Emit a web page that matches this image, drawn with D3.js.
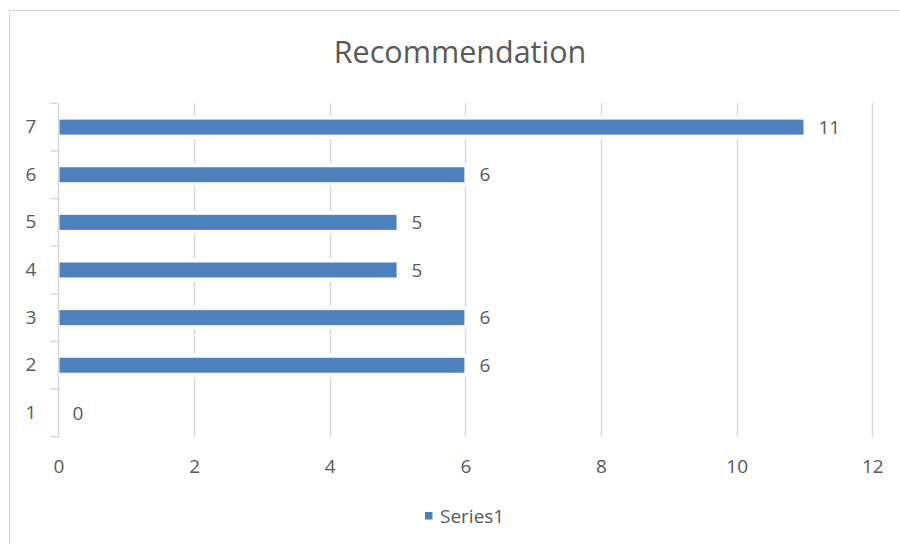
<!DOCTYPE html>
<html>
<head>
<meta charset="utf-8">
<script src="https://cdn.jsdelivr.net/npm/d3@7"></script>
<style>
  html, body { margin: 0; padding: 0; background: #fff; }
  svg { display: block; font-family: "Open Sans", "Noto Sans", sans-serif; }
</style>
</head>
<body>
<svg id="chart" width="900" height="544"></svg>
<script>
// Recommendation counts per rating
const categories = ["1", "2", "3", "4", "5", "6", "7"];
const values = [0, 6, 6, 5, 5, 6, 11];
const xTicks = [0, 2, 4, 6, 8, 10, 12];
const seriesName = "Series1";
const title = "Recommendation";

const W = 900, H = 544;
const plot = { left: 58.5, right: 872.3, top: 103.3, bottom: 436.7 };
const barColor = "#4f81bd";
const gridColor = "#d9d9d9";
const textColor = "#595959";
const labelSize = 19;

const svg = d3.select("#chart");

// outer chart frame
svg.append("rect")
  .attr("x", 9.5).attr("y", 10.5)
  .attr("width", W).attr("height", H)
  .attr("fill", "#fff").attr("stroke", gridColor).attr("stroke-width", 1);

const x = d3.scaleLinear().domain([0, 12]).range([plot.left, plot.right]);
const y = d3.scaleBand().domain(categories.slice().reverse())
  .range([plot.top, plot.bottom]).paddingInner(0.685).paddingOuter(0.3425);

// vertical gridlines
svg.append("g").selectAll("line").data(xTicks.filter(d => d > 0)).join("line")
  .attr("x1", d => Math.round(x(d)) + 0.5).attr("x2", d => Math.round(x(d)) + 0.5)
  .attr("y1", plot.top).attr("y2", plot.bottom)
  .attr("stroke", gridColor).attr("stroke-width", 1.5);

// x axis labels
const xAxis = d3.axisBottom(x).tickValues(xTicks).tickSize(0).tickPadding(0);
const gx = svg.append("g").attr("transform", `translate(0,${plot.bottom})`).call(xAxis);
gx.select(".domain").remove();
gx.selectAll("text")
  .attr("y", 30).attr("dy", "0.35em")
  .attr("fill", textColor).attr("font-size", labelSize).attr("font-family", "Open Sans, sans-serif");

// category axis (left) with ticks at band boundaries
const boundaries = d3.range(categories.length + 1).map(i => plot.top + i * (plot.bottom - plot.top) / categories.length);
const gy = svg.append("g");
gy.append("line")
  .attr("x1", plot.left).attr("x2", plot.left)
  .attr("y1", plot.top).attr("y2", plot.bottom)
  .attr("stroke", gridColor).attr("stroke-width", 1.5);
gy.selectAll("line.tick").data(boundaries).join("line").attr("class", "tick")
  .attr("x1", plot.left - 8).attr("x2", plot.left)
  .attr("y1", d => d).attr("y2", d => d)
  .attr("stroke", gridColor).attr("stroke-width", 1.5);
const yAxis = d3.axisLeft(y).tickSize(0).tickPadding(0);
const gyl = svg.append("g").attr("transform", `translate(${plot.left},0)`).call(yAxis);
gyl.select(".domain").remove();
gyl.selectAll("text")
  .attr("x", -27.5).attr("text-anchor", "middle")
  .attr("fill", textColor).attr("font-size", labelSize).attr("font-family", "Open Sans, sans-serif");

// bars with a white halo that interrupts the gridlines
const rows = categories.map((c, i) => ({ cat: c, value: values[i] }));
const bars = svg.append("g");
bars.selectAll("rect.halo").data(rows.filter(d => d.value > 0)).join("rect").attr("class", "halo")
  .attr("x", plot.left + 1).attr("y", d => y(d.cat) - 4)
  .attr("width", d => x(d.value) - plot.left + 3).attr("height", y.bandwidth() + 8)
  .attr("fill", "#fff");
bars.selectAll("rect.bar").data(rows).join("rect").attr("class", "bar")
  .attr("x", plot.left + 1).attr("y", d => y(d.cat))
  .attr("width", d => Math.max(0, x(d.value) - plot.left - 2)).attr("height", y.bandwidth())
  .attr("fill", barColor);

// value labels
bars.selectAll("text").data(rows).join("text")
  .attr("x", d => x(d.value) + 14).attr("y", d => y(d.cat) + y.bandwidth() / 2)
  .attr("dy", "0.35em")
  .attr("fill", textColor).attr("font-size", labelSize)
  .text(d => d.value);

// title
svg.append("text")
  .attr("x", 460).attr("y", 52).attr("dy", "0.35em")
  .attr("text-anchor", "middle")
  .attr("fill", textColor).attr("font-size", 30.5)
  .text(title);

// legend
const lg = svg.append("g");
lg.append("rect").attr("x", 425).attr("y", 512).attr("width", 7.5).attr("height", 7.5).attr("fill", barColor);
lg.append("text").attr("x", 440).attr("y", 516).attr("dy", "0.35em")
  .attr("fill", textColor).attr("font-size", labelSize).text(seriesName);
</script>
</body>
</html>
